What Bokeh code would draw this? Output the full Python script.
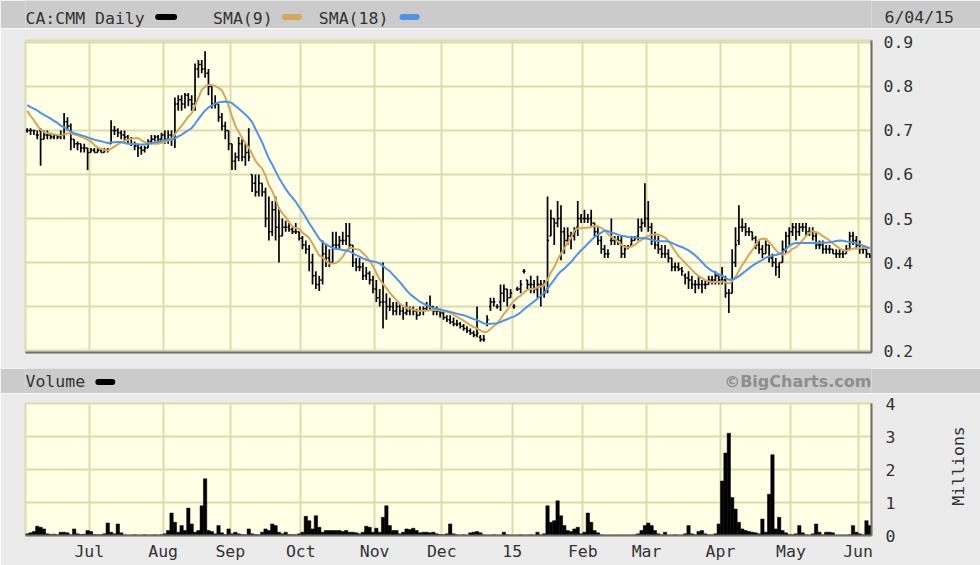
import math
import numpy as np
import pandas as pd
from bokeh.plotting import figure
from bokeh.layouts import column
from bokeh.models import ColumnDataSource, Range1d, FixedTicker, LinearAxis, Grid
from bokeh.core.properties import value
from bokeh.embed import file_html
from bokeh.resources import INLINE

# ---------------- data ----------------
ticker_name = "CA:CMM Daily"
last_date = "6/04/15"
legend_sma9 = "SMA(9)"
legend_sma18 = "SMA(18)"

# trading days per month, Jun 2014 (from Jun 4) .. Jun 2015 (to Jun 4)
month_trading_days = [19, 22, 20, 21, 22, 20, 21, 21, 19, 22, 21, 20, 4]
month_labels = ["Jul", "Aug", "Sep", "Oct", "Nov", "Dec", "15", "Feb", "Mar", "Apr", "May", "Jun"]
price_ticks = [0.2, 0.3, 0.4, 0.5, 0.6, 0.7, 0.8, 0.9]
volume_ticks = [0, 1, 2, 3, 4]

# closes before the visible window (for the moving averages)
prior_close = [0.78, 0.77, 0.76, 0.78, 0.77, 0.76, 0.77, 0.78, 0.77,
               0.80, 0.79, 0.79, 0.78, 0.73, 0.71, 0.70, 0.70]

open_ = [
    # Jun
    .70, .70, .70, .69, .70, .68, .69, .69, .685, .69, .685, .69, .72, .71, .68, .67, .67, .66, .66,
    # Jul
    .65, .655, .65, .655, .65, .655, .67, .70, .70, .695, .69, .685, .68, .67, .665, .66, .655, .66, .675, .68, .685, .68,
    # Aug
    .69, .68, .69, .69, .76, .77, .76, .78, .77, .76, .84, .85, .84, .83, .80, .76, .76, .73, .71, .70,
    # Sep
    .67, .63, .64, .67, .64, .65, .60, .58, .56, .58, .56, .50, .47, .52, .48, .46, .48, .48, .475, .47, .47,
    # Oct
    .455, .44, .43, .40, .37, .35, .36, .42, .41, .40, .44, .44, .45, .45, .46, .44, .40, .39, .39, .37, .375, .36,
    # Nov
    .34, .32, .31, .31, .30, .30, .29, .30, .29, .285, .29, .295, .29, .28, .29, .295, .30, .30, .29, .29,
    # Dec
    .285, .275, .27, .265, .26, .26, .255, .25, .245, .24, .235, .23, .225, .26, .30, .31, .30, .31, .33, .34, .32,
    # Jan
    .30, .34, .34, .38, .36, .35, .35, .34, .35, .35, .34, .46, .50, .49, .50, .47, .45, .46, .46, .48, .50,
    # Feb
    .50, .50, .50, .49, .47, .45, .43, .42, .45, .45, .45, .45, .42, .435, .44, .45, .46, .48, .49,
    # Mar
    .50, .48, .45, .44, .43, .42, .42, .41, .39, .39, .385, .37, .365, .36, .35, .35, .35, .35, .35, .36, .36, .37,
    # Apr
    .36, .36, .33, .33, .40, .45, .48, .48, .47, .47, .455, .44, .43, .42, .44, .41, .40, .39, .40, .43, .46,
    # May
    .47, .48, .47, .48, .48, .47, .47, .46, .44, .44, .43, .43, .43, .42, .42, .42, .42, .43, .46, .45,
    # Jun
    .44, .43, .43, .42,
]

high = [
    .705, .705, .70, .70, .705, .70, .70, .695, .69, .69, .70, .74, .73, .716, .68, .675, .67, .67, .66,
    .66, .66, .66, .66, .66, .66, .723, .71, .705, .70, .70, .69, .685, .675, .67, .665, .665, .68, .69, .69, .69, .695,
    .70, .70, .70, .775, .78, .78, .785, .785, .78, .852, .86, .86, .88, .84, .80, .78, .76, .74, .72, .70,
    .67, .65, .685, .68, .67, .705, .60, .60, .60, .58, .57, .55, .54, .55, .525, .50, .495, .49, .48, .49, .47,
    .46, .45, .44, .42, .38, .37, .45, .44, .43, .47, .47, .46, .47, .49, .49, .44, .41, .41, .40, .39, .38, .37,
    .36, .34, .40, .33, .32, .31, .31, .305, .30, .31, .30, .30, .295, .30, .30, .31, .325, .30, .30, .295,
    .29, .28, .28, .275, .27, .265, .26, .255, .25, .245, .30, .235, .235, .28, .32, .32, .305, .35, .35, .34, .34,
    .305, .345, .36, .385, .36, .37, .36, .37, .36, .36, .55, .52, .50, .54, .53, .48, .48, .47, .48, .54, .51,
    .52, .51, .52, .49, .48, .46, .44, .43, .50, .46, .46, .46, .44, .44, .46, .46, .50, .50, .58,
    .54, .49, .47, .46, .44, .44, .43, .41, .40, .40, .39, .375, .38, .37, .36, .37, .36, .36, .37, .37, .38, .37,
    .39, .37, .34, .43, .48, .53, .50, .49, .48, .47, .46, .45, .44, .45, .44, .42, .41, .40, .45, .47, .48,
    .49, .49, .49, .49, .49, .48, .48, .47, .45, .45, .44, .44, .43, .43, .43, .43, .44, .47, .47, .46,
    .45, .44, .43, .42,
]

low = [
    .695, .69, .69, .68, .62, .68, .68, .68, .68, .68, .68, .68, .70, .655, .66, .655, .65, .65, .61,
    .65, .65, .65, .65, .65, .65, .67, .69, .685, .68, .675, .67, .665, .655, .64, .645, .65, .66, .67, .675, .67, .675,
    .67, .67, .665, .66, .745, .745, .75, .755, .745, .745, .82, .83, .82, .78, .75, .75, .72, .70, .68, .655,
    .61, .61, .63, .63, .62, .63, .56, .55, .55, .55, .48, .45, .46, .45, .40, .46, .47, .47, .465, .465, .45,
    .43, .42, .38, .35, .34, .335, .35, .39, .39, .40, .43, .43, .44, .44, .43, .39, .38, .38, .36, .36, .35, .33,
    .31, .30, .25, .27, .29, .28, .28, .28, .27, .28, .28, .28, .27, .28, .28, .29, .29, .28, .28, .275,
    .27, .265, .26, .255, .255, .25, .245, .24, .235, .23, .23, .22, .22, .255, .29, .30, .295, .29, .31, .30, .32,
    .295, .335, .33, .375, .34, .33, .33, .32, .30, .32, .33, .46, .44, .48, .405, .42, .44, .43, .45, .46, .49,
    .49, .49, .48, .46, .44, .42, .41, .41, .44, .44, .44, .41, .41, .43, .44, .45, .45, .47, .48,
    .47, .44, .43, .42, .41, .41, .40, .38, .38, .38, .37, .35, .34, .34, .33, .34, .33, .34, .35, .35, .35, .35,
    .35, .32, .285, .33, .39, .44, .47, .46, .46, .45, .43, .42, .41, .42, .40, .39, .37, .365, .40, .42, .44,
    .46, .45, .46, .47, .46, .46, .45, .43, .43, .42, .42, .42, .42, .41, .41, .41, .42, .43, .44, .43,
    .42, .42, .41, .41,
]

close = [
    .70, .70, .70, .69, .68, .69, .69, .685, .69, .685, .69, .72, .71, .68, .67, .67, .66, .66, .65,
    .655, .65, .655, .65, .655, .655, .70, .70, .695, .69, .685, .68, .67, .665, .66, .655, .66, .675, .68, .685, .68, .69,
    .68, .69, .68, .76, .77, .76, .78, .77, .76, .84, .85, .84, .83, .80, .76, .76, .73, .71, .70, .67,
    .63, .64, .67, .64, .65, .64, .58, .56, .58, .56, .50, .47, .52, .48, .46, .48, .48, .475, .47, .47, .455,
    .44, .43, .40, .37, .35, .36, .42, .41, .40, .44, .44, .45, .45, .46, .44, .40, .39, .39, .37, .375, .36, .34,
    .32, .31, .31, .30, .30, .29, .30, .29, .285, .29, .295, .29, .28, .29, .295, .30, .30, .29, .29, .285,
    .275, .27, .265, .26, .26, .255, .25, .245, .24, .235, .24, .225, .225, .27, .31, .31, .30, .33, .34, .32, .33,
    .30, .34, .35, .38, .35, .35, .34, .35, .35, .33, .45, .50, .49, .50, .47, .45, .46, .46, .47, .50, .50,
    .50, .50, .49, .47, .45, .43, .42, .42, .45, .45, .45, .42, .43, .435, .45, .455, .48, .49, .50,
    .48, .45, .44, .43, .42, .42, .41, .39, .39, .385, .38, .365, .36, .35, .35, .35, .35, .35, .36, .36, .37, .36,
    .36, .33, .33, .40, .44, .48, .48, .47, .47, .455, .44, .43, .42, .44, .41, .40, .39, .40, .43, .46, .47,
    .48, .47, .48, .48, .47, .47, .46, .44, .44, .43, .43, .43, .42, .42, .42, .42, .43, .46, .45, .44,
    .43, .43, .42, .415,
]

# volume in millions of shares
volume = [
    0.05, 0.08, 0.12, 0.28, 0.25, 0.20, 0.05, 0.03, 0.04, 0.02, 0.10, 0.10, 0.08, 0.02, 0.20, 0.05, 0.03, 0.04, 0.15,
    0.12, 0.03, 0.02, 0.02, 0.05, 0.38, 0.10, 0.05, 0.35, 0.08, 0.02, 0.01, 0.01, 0.02, 0.01, 0.01, 0.02, 0.01, 0.01, 0.02, 0.01, 0.02,
    0.05, 0.15, 0.68, 0.40, 0.10, 0.30, 0.15, 0.83, 0.35, 0.10, 0.15, 0.90, 1.72, 0.15, 0.12, 0.05, 0.30, 0.08, 0.03, 0.20,
    0.05, 0.10, 0.05, 0.03, 0.02, 0.20, 0.05, 0.03, 0.02, 0.10, 0.20, 0.15, 0.35, 0.30, 0.10, 0.05, 0.10, 0.03, 0.02, 0.02, 0.05,
    0.10, 0.58, 0.45, 0.20, 0.60, 0.25, 0.10, 0.15, 0.15, 0.15, 0.15, 0.15, 0.12, 0.15, 0.10, 0.10, 0.08, 0.05, 0.10, 0.28, 0.25, 0.10,
    0.22, 0.10, 0.55, 0.90, 0.30, 0.15, 0.15, 0.05, 0.10, 0.20, 0.18, 0.22, 0.15, 0.08, 0.10, 0.10, 0.08, 0.10, 0.05, 0.03,
    0.02, 0.05, 0.35, 0.05, 0.02, 0.01, 0.02, 0.01, 0.08, 0.10, 0.12, 0.08, 0.02, 0.01, 0.01, 0.02, 0.01, 0.01, 0.10, 0.02, 0.01,
    0.01, 0.01, 0.02, 0.01, 0.01, 0.02, 0.01, 0.10, 0.02, 0.05, 0.90, 0.40, 0.45, 1.05, 0.60, 0.30, 0.15, 0.12, 0.20, 0.25, 0.05,
    0.10, 0.68, 0.40, 0.15, 0.08, 0.02, 0.01, 0.01, 0.01, 0.01, 0.01, 0.01, 0.01, 0.01, 0.01, 0.02, 0.05, 0.15, 0.30,
    0.38, 0.30, 0.15, 0.05, 0.02, 0.10, 0.01, 0.01, 0.02, 0.01, 0.01, 0.05, 0.30, 0.05, 0.02, 0.12, 0.15, 0.05, 0.02, 0.02, 0.05, 0.35,
    1.65, 2.50, 3.10, 1.15, 0.80, 0.40, 0.20, 0.15, 0.12, 0.10, 0.08, 0.05, 0.50, 0.10, 1.25, 2.45, 0.20, 0.55, 0.15, 0.08, 0.03,
    0.02, 0.05, 0.30, 0.08, 0.02, 0.01, 0.05, 0.35, 0.10, 0.02, 0.10, 0.10, 0.08, 0.01, 0.01, 0.01, 0.01, 0.02, 0.30, 0.10,
    0.05, 0.02, 0.45, 0.30,
]

# ---------------- derived ----------------
n = len(close)
xc = np.arange(n) + 0.5
month_starts = [int(v) for v in np.cumsum(month_trading_days)[:-1]]
all_close = pd.Series(prior_close + close)
sma9 = all_close.rolling(9).mean().to_numpy()[len(prior_close):]
sma18 = all_close.rolling(18).mean().to_numpy()[len(prior_close):]

src = ColumnDataSource(dict(x=xc, xl=xc - 0.45, xr=xc + 0.45, o=open_, h=high, l=low, c=close,
                            v=volume, s9=sma9, s18=sma18))

# ---------------- style ----------------
W = 980
LB, RB = 25, 107          # frame left / right borders, shared by all panels
FRAME_R = W - RB
MONO = "DejaVu Sans Mono"
PAGE_BG = "#ebebeb"
HDR_BG = "#cbcbcb"
PLOT_BG = "#ffffe6"
GRID_C = "#dcdcaa"
EDGE = "#6e6e6e"
TXT = "#333333"
TAN = "#d6a65a"
BLUE = "#4d94e6"
FS = "16.5px"


def band(h):
    # header strip; x data units equal page pixels
    f = figure(width=W, height=h, x_range=Range1d(LB, FRAME_R), y_range=Range1d(0, h),
               x_axis_type=None, y_axis_type=None, toolbar_location=None,
               output_backend="svg", min_border_left=LB, min_border_right=RB,
               min_border_top=0, min_border_bottom=0, outline_line_color=None,
               background_fill_color=HDR_BG, border_fill_color=HDR_BG)
    return f


txt_kw = dict(text_font=value(MONO), text_font_size=FS, text_color=TXT, text_baseline="middle")

# header with legend
h1 = band(28)
h1.text(x=[25], y=[10.5], text=[ticker_name], **txt_kw)
h1.segment(x0=[158], y0=[11.5], x1=[174], y1=[11.5], line_width=6, line_cap="round", line_color="black")
h1.text(x=[213], y=[10.5], text=[legend_sma9], **txt_kw)
h1.segment(x0=[285], y0=[11.5], x1=[299], y1=[11.5], line_width=6, line_cap="round", line_color=TAN)
h1.text(x=[319], y=[10.5], text=[legend_sma18], **txt_kw)
h1.segment(x0=[403], y0=[11.5], x1=[417], y1=[11.5], line_width=6, line_cap="round", line_color=BLUE)
date_axis = LinearAxis(ticker=FixedTicker(ticks=[11]), major_label_overrides={11: last_date},
                       axis_line_color=None, major_tick_out=0, major_tick_in=0,
                       major_label_standoff=13, major_label_text_font=MONO,
                       major_label_text_font_size=FS, major_label_text_color=TXT)
h1.add_layout(date_axis, "right")

# price panel
xr = Range1d(0, n)
p = figure(width=W, height=340, x_range=xr, y_range=Range1d(0.1955, 0.9045),
           x_axis_type=None, y_axis_type=None, toolbar_location=None, output_backend="svg",
           min_border_left=LB, min_border_right=RB, min_border_top=12, min_border_bottom=16,
           background_fill_color=PLOT_BG, border_fill_color=PAGE_BG,
           outline_line_color=GRID_C, outline_line_width=2)
p.add_layout(Grid(dimension=0, ticker=FixedTicker(ticks=month_starts),
                  grid_line_color=GRID_C, grid_line_width=2))
p.add_layout(Grid(dimension=1, ticker=FixedTicker(ticks=price_ticks),
                  grid_line_color=GRID_C, grid_line_width=2))
pya = LinearAxis(ticker=FixedTicker(ticks=price_ticks), axis_line_color=EDGE, axis_line_width=2,
                 major_tick_out=0, major_tick_in=0, major_label_standoff=12,
                 major_label_text_font=MONO, major_label_text_font_size=FS,
                 major_label_text_color=TXT)
p.add_layout(pya, "right")
pxa = LinearAxis(ticker=FixedTicker(ticks=[]), axis_line_color=EDGE, axis_line_width=2,
                 major_tick_out=0, major_tick_in=0, major_label_text_font_size="1px")
p.add_layout(pxa, "below")

p.segment(x0="x", y0="l", x1="x", y1="h", source=src, line_color="black", line_width=1.7)
p.segment(x0="xl", y0="o", x1="x", y1="o", source=src, line_color="black", line_width=1.5)
p.segment(x0="x", y0="c", x1="xr", y1="c", source=src, line_color="black", line_width=1.5)
p.line(x="x", y="s9", source=src, line_color=TAN, line_width=2)
p.line(x="x", y="s18", source=src, line_color=BLUE, line_width=2)

# volume header
h2 = band(25)
h2.text(x=[25], y=[12], text=["Volume"], **txt_kw)
h2.segment(x0=[98], y0=[11.5], x1=[112], y1=[11.5], line_width=6, line_cap="round", line_color="black")
h2.text(x=[873], y=[12.5], text=["\u00a9BigCharts.com"], text_align="right", text_baseline="middle",
        text_font=value("DejaVu Sans"), text_font_style="bold", text_font_size="16px",
        text_color="#8e8e8e")

# volume panel
v = figure(width=W, height=172, x_range=xr, y_range=Range1d(0, 4),
           x_axis_type=None, y_axis_type=None, toolbar_location=None, output_backend="svg",
           min_border_left=LB, min_border_right=RB, min_border_top=10, min_border_bottom=30,
           background_fill_color=PLOT_BG, border_fill_color=PAGE_BG,
           outline_line_color=GRID_C, outline_line_width=2)
v.add_layout(Grid(dimension=0, ticker=FixedTicker(ticks=month_starts),
                  grid_line_color=GRID_C, grid_line_width=2))
v.add_layout(Grid(dimension=1, ticker=FixedTicker(ticks=volume_ticks),
                  grid_line_color=GRID_C, grid_line_width=2))
vya = LinearAxis(ticker=FixedTicker(ticks=volume_ticks), axis_line_color=EDGE, axis_line_width=2,
                 major_tick_out=0, major_tick_in=0, major_label_standoff=14,
                 major_label_text_font=MONO, major_label_text_font_size=FS,
                 major_label_text_color=TXT,
                 axis_label="\u00a0\u00a0\u00a0Millions", axis_label_standoff=60,
                 axis_label_orientation=math.pi / 2, axis_label_align="start",
                 axis_label_text_font=MONO, axis_label_text_font_size=FS,
                 axis_label_text_font_style="normal", axis_label_text_color=TXT)
v.add_layout(vya, "right")
vxa = LinearAxis(ticker=FixedTicker(ticks=month_starts),
                 major_label_overrides=dict(zip(month_starts, month_labels)),
                 axis_line_color=EDGE, axis_line_width=2, major_tick_out=0, major_tick_in=0,
                 major_label_standoff=6, major_label_text_font=MONO,
                 major_label_text_font_size=FS, major_label_text_color=TXT)
v.add_layout(vxa, "below")
v.vbar(x="x", top="v", width=1.0, source=src, fill_color="black", line_color="black", line_width=0.5)

layout = column(h1, p, h2, v)
open("out.html", "w").write(file_html(layout, INLINE))
